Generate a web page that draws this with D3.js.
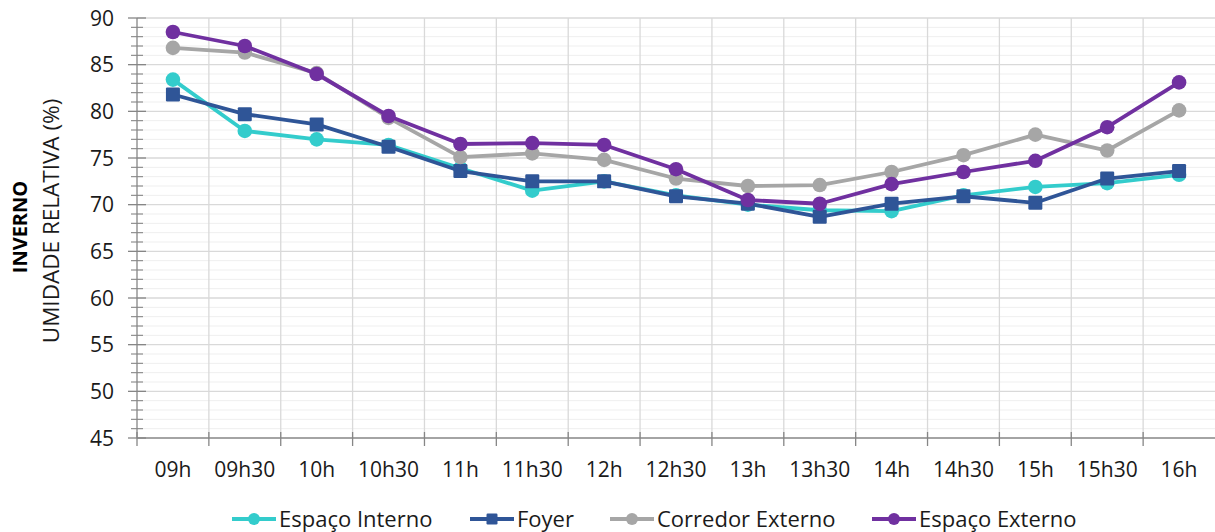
<!DOCTYPE html>
<html>
<head>
<meta charset="utf-8">
<script src="https://cdn.jsdelivr.net/npm/d3@7"></script>
<style>
  html, body { margin: 0; padding: 0; background: #fff; }
  svg { display: block; font-family: "Open Sans", "DejaVu Sans", sans-serif; }
</style>
</head>
<body>
<svg id="chart" width="1215" height="532"></svg>
<script>
// Time slots along the x axis
const categories = ["09h", "09h30", "10h", "10h30", "11h", "11h30", "12h", "12h30",
                    "13h", "13h30", "14h", "14h30", "15h", "15h30", "16h"];

// Relative humidity (%) per location
const espacoInterno   = [83.4, 77.9, 77.0, 76.4, 73.9, 71.5, 72.5, 71.0, 70.0, 69.4, 69.3, 71.0, 71.9, 72.3, 73.2];
const foyer           = [81.8, 79.7, 78.6, 76.2, 73.6, 72.5, 72.5, 70.9, 70.1, 68.7, 70.1, 70.9, 70.2, 72.8, 73.6];
const corredorExterno = [86.8, 86.3, 84.1, 79.3, 75.1, 75.5, 74.8, 72.8, 72.0, 72.1, 73.5, 75.3, 77.5, 75.8, 80.1];
const espacoExterno   = [88.5, 87.0, 84.0, 79.5, 76.5, 76.6, 76.4, 73.8, 70.5, 70.1, 72.2, 73.5, 74.7, 78.3, 83.1];

const seriesNames = ["Espaço Interno", "Foyer", "Corredor Externo", "Espaço Externo"];
const yTicks = [45, 50, 55, 60, 65, 70, 75, 80, 85, 90];
const yTitle = "UMIDADE RELATIVA (%)";
const yTitleBold = "INVERNO";

const series = [
  { name: seriesNames[0], values: espacoInterno,   color: "#33CCCC", shape: "circle" },
  { name: seriesNames[1], values: foyer,           color: "#2F5597", shape: "square" },
  { name: seriesNames[2], values: corredorExterno, color: "#A6A6A6", shape: "circle" },
  { name: seriesNames[3], values: espacoExterno,   color: "#7030A0", shape: "circle" }
];

const svg = d3.select("#chart");
const plot = { left: 137, right: 1215, top: 18, bottom: 438 };

const x = d3.scaleBand().domain(categories).range([plot.left, plot.right]).padding(0);
const y = d3.scaleLinear().domain([45, 90]).range([plot.bottom, plot.top]);

const axisColor = "#868686";

// Minor horizontal gridlines (every 1 %)
const minorVals = d3.range(46, 90, 1).filter(v => v % 5 !== 0);
svg.append("g").selectAll("line").data(minorVals).join("line")
  .attr("x1", plot.left).attr("x2", plot.right)
  .attr("y1", d => y(d)).attr("y2", d => y(d))
  .attr("stroke", "#efefef").attr("stroke-width", 1);

// Major horizontal gridlines (every 5 %)
svg.append("g").selectAll("line").data(yTicks.filter(v => v > 45)).join("line")
  .attr("x1", plot.left).attr("x2", plot.right)
  .attr("y1", d => y(d)).attr("y2", d => y(d))
  .attr("stroke", "#d9d9d9").attr("stroke-width", 1.3);

// Vertical gridlines at category boundaries
const bounds = categories.slice(1).map(c => x(c));
svg.append("g").selectAll("line").data(bounds).join("line")
  .attr("x1", d => d).attr("x2", d => d)
  .attr("y1", plot.top).attr("y2", plot.bottom)
  .attr("stroke", "#d9d9d9").attr("stroke-width", 1.3);

// Y axis with major and minor cross ticks
const yAxisG = svg.append("g");
yAxisG.append("line")
  .attr("x1", plot.left).attr("x2", plot.left)
  .attr("y1", plot.top).attr("y2", plot.bottom)
  .attr("stroke", axisColor).attr("stroke-width", 1.3);
yAxisG.selectAll(".minor").data(minorVals).join("line")
  .attr("class", "minor")
  .attr("x1", plot.left - 6).attr("x2", plot.left + 6)
  .attr("y1", d => y(d)).attr("y2", d => y(d))
  .attr("stroke", axisColor).attr("stroke-width", 1.1);
yAxisG.selectAll(".major").data(yTicks).join("line")
  .attr("class", "major")
  .attr("x1", plot.left - 9).attr("x2", plot.left + 9)
  .attr("y1", d => y(d)).attr("y2", d => y(d))
  .attr("stroke", axisColor).attr("stroke-width", 1.3);
yAxisG.selectAll("text").data(yTicks).join("text")
  .attr("x", 114).attr("y", d => y(d))
  .attr("dy", "0.36em")
  .attr("text-anchor", "end")
  .attr("font-size", 21).attr("fill", "#1a1a1a")
  .text(d => d);

// X axis with boundary ticks
const xAxisG = svg.append("g");
xAxisG.append("line")
  .attr("x1", plot.left).attr("x2", plot.right)
  .attr("y1", plot.bottom).attr("y2", plot.bottom)
  .attr("stroke", axisColor).attr("stroke-width", 1.3);
xAxisG.selectAll(".tick").data([plot.left].concat(bounds)).join("line")
  .attr("class", "tick")
  .attr("x1", d => d).attr("x2", d => d)
  .attr("y1", plot.bottom - 6).attr("y2", plot.bottom + 8)
  .attr("stroke", axisColor).attr("stroke-width", 1.3);
xAxisG.selectAll("text").data(categories).join("text")
  .attr("x", d => x(d) + x.bandwidth() / 2)
  .attr("y", 469)
  .attr("dy", "0.36em")
  .attr("text-anchor", "middle")
  .attr("font-size", 21).attr("fill", "#1a1a1a")
  .text(d => d);

// Axis titles
svg.append("text")
  .attr("transform", "translate(27,227) rotate(-90)")
  .attr("text-anchor", "middle")
  .attr("font-size", 20).attr("font-weight", "bold").attr("fill", "#000")
  .text(yTitleBold);
svg.append("text")
  .attr("transform", "translate(59,221) rotate(-90)")
  .attr("text-anchor", "middle")
  .attr("font-size", 22.5).attr("fill", "#1a1a1a")
  .text(yTitle);

// Series lines and markers
const line = d3.line()
  .x((d, i) => x(categories[i]) + x.bandwidth() / 2)
  .y(d => y(d));

function drawMarker(g, shape, color, cx, cy, size) {
  if (shape === "square") {
    g.append("rect")
      .attr("x", cx - size).attr("y", cy - size)
      .attr("width", size * 2).attr("height", size * 2)
      .attr("rx", 1.2)
      .attr("fill", color);
  } else {
    g.append("circle")
      .attr("cx", cx).attr("cy", cy).attr("r", size)
      .attr("fill", color);
  }
}

series.forEach(s => {
  const g = svg.append("g");
  g.append("path")
    .datum(s.values)
    .attr("d", line)
    .attr("fill", "none")
    .attr("stroke", s.color)
    .attr("stroke-width", 3.8)
    .attr("stroke-linejoin", "round");
  s.values.forEach((v, i) => {
    drawMarker(g, s.shape, s.color, x(categories[i]) + x.bandwidth() / 2, y(v),
               s.shape === "square" ? 7 : 7.3);
  });
});

// Legend
const legendX = [232, 470, 610, 872];
const legendY = 519;
series.forEach((s, i) => {
  const g = svg.append("g");
  const x0 = legendX[i];
  g.append("line")
    .attr("x1", x0).attr("x2", x0 + 44)
    .attr("y1", legendY).attr("y2", legendY)
    .attr("stroke", s.color).attr("stroke-width", 3.8);
  drawMarker(g, s.shape, s.color, x0 + 22, legendY, s.shape === "square" ? 5.5 : 6);
  g.append("text")
    .attr("x", x0 + 47).attr("y", legendY)
    .attr("dy", "0.36em")
    .attr("font-size", 22).attr("fill", "#1a1a1a")
    .text(s.name);
});
</script>
</body>
</html>
